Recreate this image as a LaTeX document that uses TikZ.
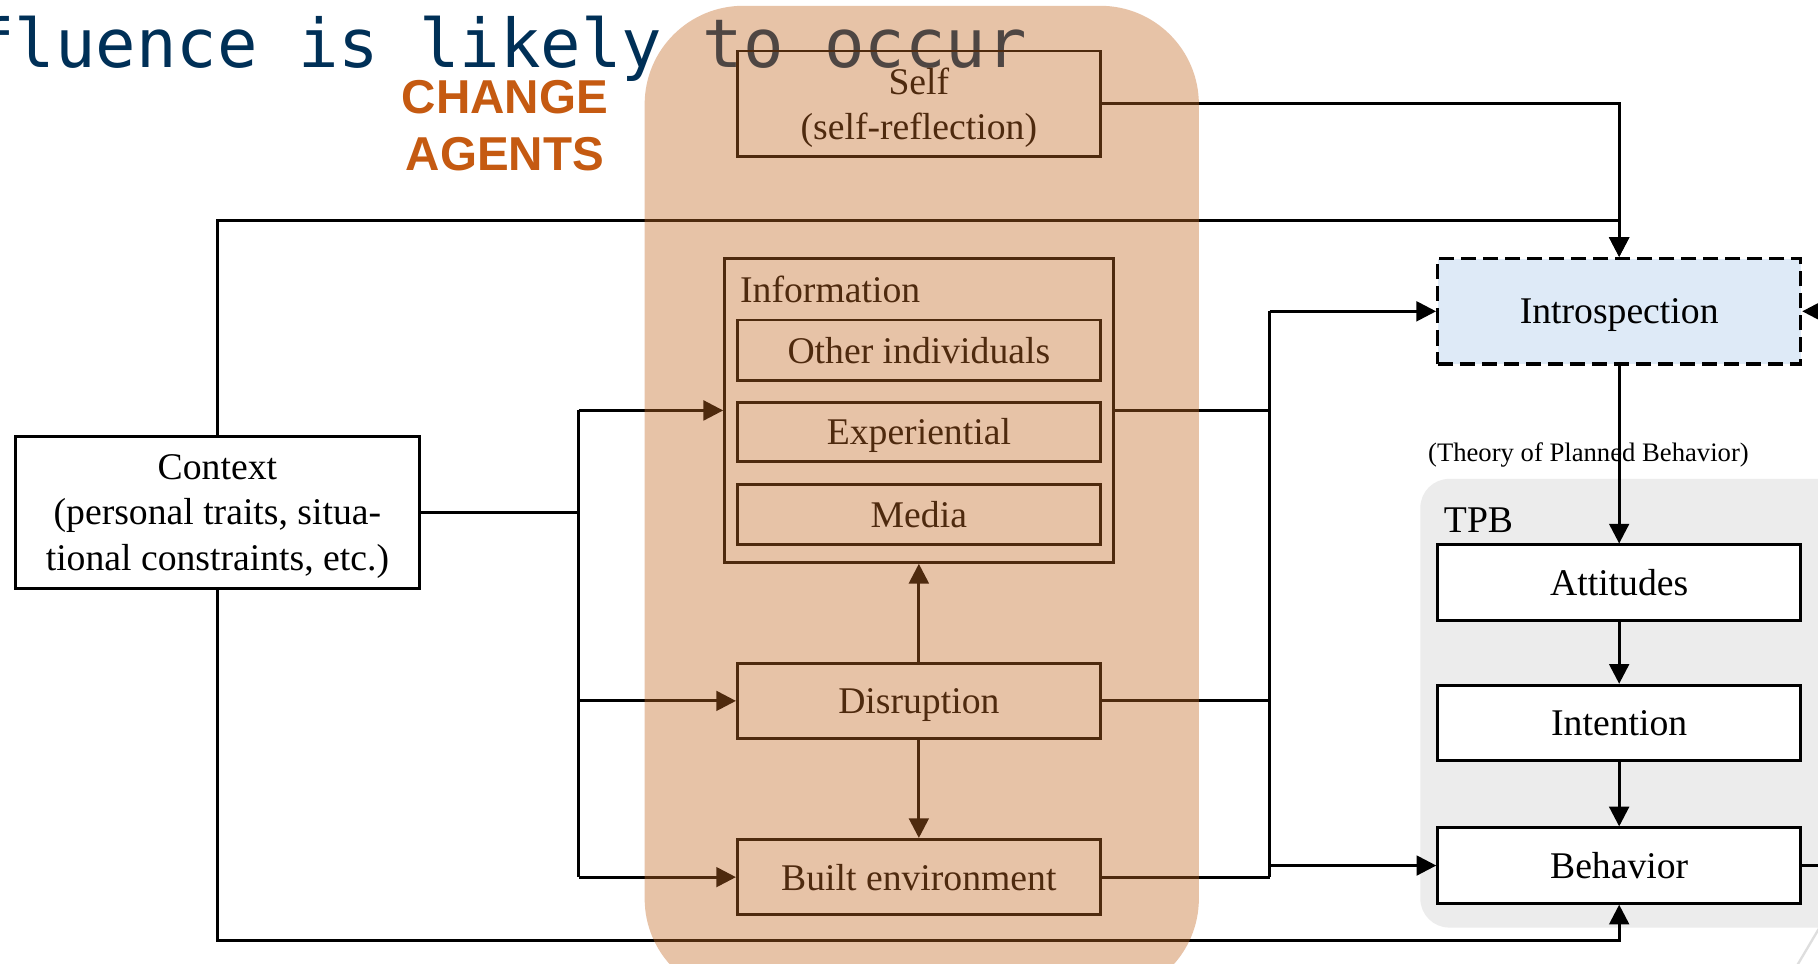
\documentclass[tikz,border=0pt]{standalone}
\usepackage{fontspec}
\setmainfont{Liberation Serif}
\newfontfamily\monofont{DejaVu Sans Mono}
\newfontfamily\headfont{Liberation Sans}
\usetikzlibrary{arrows.meta,calc}
\definecolor{titleblue}{RGB}{0,48,87}
\definecolor{agentorange}{RGB}{197,90,17}
\definecolor{veil}{RGB}{197,105,37}
\definecolor{introfill}{RGB}{222,234,247}
\definecolor{tpbgray}{RGB}{236,236,236}
\definecolor{slidegray}{RGB}{222,222,222}
\begin{document}
\begin{tikzpicture}[x=0.5pt,y=-0.5pt,
  box/.style={draw=black,line width=1.25pt,inner sep=0pt,minimum width=156.5pt,
    font=\fontsize{16.25}{19.5}\selectfont,align=center,text depth=0pt},
  lbl/.style={inner sep=0pt,font=\fontsize{16.25}{19.5}\selectfont},
  arr/.style={line width=1.25pt,-{Triangle[length=8.5pt,width=8.5pt]}},
  wire/.style={line width=1.25pt}]
\useasboundingbox (0,0) rectangle (1568,831);
\clip (0,0) rectangle (1568,831);
\fill[white] (0,0) rectangle (1568,831);

% slide heading and group caption
\node[anchor=base east,inner sep=0pt,text=titleblue,
  font=\monofont\fontsize{29}{29}\selectfont] (title) at (886,58) {fluence is likely to occur};
\node[anchor=base,inner sep=0pt,text=agentorange,
  font=\headfont\bfseries\fontsize{20.5}{20.5}\selectfont] (chg) at (435.5,98) {CHANGE};
\node[anchor=base,inner sep=0pt,text=agentorange,
  font=\headfont\bfseries\fontsize{20.5}{20.5}\selectfont] (agt) at (435.5,147) {AGENTS};

% TPB panel
\fill[tpbgray,rounded corners=12.5pt] (1225,413) rectangle (1640,800);
\node[lbl,anchor=base west] (tpblabel) at (1245,459) {TPB};
\node[anchor=base,inner sep=0pt,font=\fontsize{11.5}{11.5}\selectfont] (tpbname) at (1370,398) {(Theory of Planned Behavior)};

% boxes
\node[box,minimum height=45.5pt] (self) at (792.5,89.5) {Self\\(self-reflection)};
\node[draw=black,line width=1.25pt,inner sep=0pt,minimum width=167.5pt,minimum height=131pt] (info) at (792.5,354) {};
\node[lbl,anchor=base west] (infolabel) at (638,261) {Information};
\node[box,minimum height=26pt] (other) at (792.5,302) {Other individuals};
\node[box,minimum height=25.5pt] (exper) at (792.5,372.5) {Experiential};
\node[box,minimum height=26pt] (media) at (792.5,444) {Media};
\node[box,minimum height=32.5pt] (disr) at (792.5,604.5) {Disruption};
\node[box,minimum height=32.5pt] (built) at (792.5,756.5) {Built environment};
\node[box,minimum width=174.5pt,minimum height=65.5pt] (context) at (187.5,442)
  {Context\\(personal traits, situa-\\tional constraints, etc.)};
\node[box,dashed,dash pattern=on 6.5pt off 3pt,line width=1.4pt,fill=introfill,minimum height=45.5pt] (intro) at (1396.5,268.5) {Introspection};
\node[box,fill=white,minimum height=32.5pt] (att) at (1396.5,502.5) {Attitudes};
\node[box,fill=white,minimum height=32.5pt] (intent) at (1396.5,623.5) {Intention};
\node[box,fill=white,minimum height=32.5pt] (behav) at (1396.5,746.5) {Behavior};

% bus lines
\coordinate (topbus) at (0,190);
\coordinate (botbus) at (0,811.5);
\coordinate (lbus) at (499,442);
\coordinate (rbus) at (1095,354);

% connectors
\draw[arr] (self.east) -| (intro.north);
\draw[arr] (context.north) |- (topbus -| intro.north) -- (intro.north);
\draw[arr] (context.south) |- (botbus -| behav.south) -- (behav.south);
\draw[wire] (context.east) -- (context.east -| lbus);
\draw[wire] (lbus |- info.west) -- (lbus |- built.west);
\draw[arr] (lbus |- info.west) -- (info.west);
\draw[arr] (lbus |- disr.west) -- (disr.west);
\draw[arr] (lbus |- built.west) -- (built.west);
\draw[wire] (info.east) -- (info.east -| rbus);
\draw[wire] (disr.east) -- (disr.east -| rbus);
\draw[wire] (built.east) -- (built.east -| rbus);
\draw[wire] (rbus |- intro.west) -- (rbus |- built.east);
\draw[arr] (rbus |- intro.west) -- (intro.west);
\draw[arr] (rbus |- behav.west) -- (behav.west);
\draw[arr] (disr.north) -- (info.south);
\draw[arr] (disr.south) -- (built.north);
\draw[arr] (intro.south) -- (att.north);
\draw[arr] (att.south) -- (intent.north);
\draw[arr] (intent.south) -- (behav.north);
\draw[arr] (behav.east) -- ++(60,0) |- (intro.east);

% slide corner ornament
\draw[slidegray,line width=1pt] (1548,836) -- (1580,782);

% translucent band over the change agents
\fill[veil,opacity=0.4,rounded corners=42.5pt] (556,5) rectangle (1034,860);
\end{tikzpicture}
\end{document}
